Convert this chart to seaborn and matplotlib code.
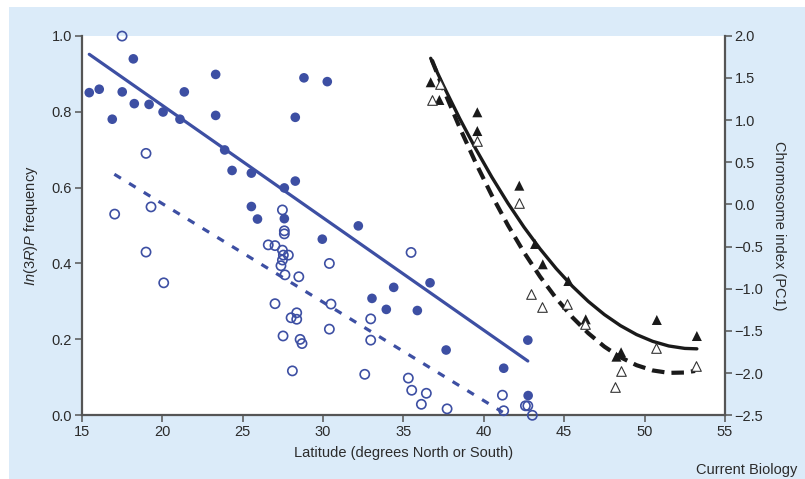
import numpy as np
import pandas as pd
import matplotlib
matplotlib.use('Agg')
import matplotlib.pyplot as plt
from matplotlib.patches import Rectangle
import seaborn as sns

# ─── data ─────────────────────────────────────────────────────────────────────
# In(3R)P frequency, filled circles
filled_lat = [15.47, 16.09, 16.90, 17.52, 18.21, 18.27, 19.19, 20.06, 21.11, 21.38,
              23.33, 23.33, 23.89, 24.35, 25.55, 25.55, 25.93, 27.60, 28.28, 27.60,
              28.28, 28.82, 30.27, 29.96, 32.20, 34.40, 33.05, 33.94, 35.87, 36.66,
              37.66, 42.74, 41.24, 42.76]
filled_freq = [0.850, 0.859, 0.780, 0.852, 0.939, 0.821, 0.819, 0.799, 0.780, 0.852,
               0.898, 0.790, 0.699, 0.645, 0.638, 0.550, 0.517, 0.599, 0.617, 0.518,
               0.785, 0.889, 0.879, 0.464, 0.499, 0.337, 0.308, 0.279, 0.276, 0.349,
               0.172, 0.198, 0.124, 0.052]

# In(3R)P frequency, open circles
open_lat = [17.51, 19.00, 17.05, 19.31, 19.00, 20.10, 27.48, 27.60, 27.60, 26.60,
            27.02, 27.48, 27.85, 27.54, 27.48, 27.39, 27.64, 28.50, 30.40, 27.02,
            28.37, 28.02, 28.37, 30.40, 27.52, 28.58, 28.70, 28.10, 32.60, 35.48,
            30.50, 32.97, 32.97, 35.31, 35.52, 36.43, 36.12, 37.72, 41.16, 41.24,
            42.59, 42.74, 43.02]
open_freq = [0.999, 0.690, 0.530, 0.549, 0.430, 0.349, 0.541, 0.486, 0.478, 0.449,
             0.447, 0.435, 0.422, 0.422, 0.409, 0.394, 0.370, 0.365, 0.400, 0.294,
             0.270, 0.257, 0.253, 0.227, 0.209, 0.200, 0.189, 0.117, 0.108, 0.429,
             0.293, 0.254, 0.198, 0.098, 0.066, 0.058, 0.029, 0.017, 0.053, 0.012,
             0.025, 0.025, 0.000]

# regression lines (end points)
line_filled_lat = [15.47, 42.74]
line_filled_freq = [0.951, 0.143]
line_open_lat = [17.03, 41.18]
line_open_freq = [0.635, 0.008]

# chromosome index (PC1), triangles
tri_filled_lat = [36.70, 37.24, 39.60, 39.60, 42.21, 43.19, 43.67, 45.26, 46.34, 48.25,
                  48.54, 50.76, 53.25]
tri_filled_pc1 = [1.448, 1.238, 1.092, 0.870, 0.222, -0.469, -0.710, -0.908, -1.362,
                  -1.805, -1.753, -1.370, -1.560]
tri_open_lat = [36.77, 37.28, 39.60, 42.21, 42.94, 43.61, 45.20, 46.32, 48.56, 48.18,
                50.71, 53.22]
tri_open_pc1 = [1.238, 1.424, 0.752, 0.013, -1.062, -1.220, -1.180, -1.421, -1.978,
                -2.161, -1.706, -1.916]

# quadratic curves
curve_solid_lat = [36.70, 37.5, 38.5, 39.5, 40.5, 41.5, 42.5, 43.5, 44.5, 45.5,
                   46.5, 47.5, 48.5, 49.5, 50.5, 51.5, 52.5, 53.25]
curve_solid_pc1 = [1.732, 1.405, 1.019, 0.659, 0.324, 0.015, -0.269, -0.527, -0.760,
                   -0.968, -1.150, -1.306, -1.437, -1.543, -1.623, -1.678, -1.707, -1.712]
curve_dash_lat = [36.77, 37.5, 38.5, 39.5, 40.5, 41.5, 42.5, 43.5, 44.5, 45.5,
                  46.5, 47.5, 48.5, 49.5, 50.5, 51.5, 52.5, 53.14]
curve_dash_pc1 = [1.712, 1.362, 0.912, 0.493, 0.107, -0.246, -0.568, -0.856, -1.112,
                  -1.336, -1.527, -1.686, -1.812, -1.906, -1.968, -1.997, -1.993, -1.974]

# ─── style ───────────────────────────────────────────────────────────────────
sns.set_theme(style='ticks')
plt.rcParams['font.family'] = ['Liberation Sans', 'DejaVu Sans']
plt.rcParams['mathtext.fontset'] = 'custom'
plt.rcParams['mathtext.it'] = 'Liberation Sans:italic'
plt.rcParams['mathtext.rm'] = 'Liberation Sans'

BLUE = '#3d4fa3'
BG = '#dbebf9'
SPINE = '#555555'
TXT = '#2b2b2b'

fig = plt.figure(figsize=(8.05, 4.79), dpi=100, facecolor='white')
fig.add_artist(Rectangle((9 / 805, 0), 1, 1 - 7 / 479, transform=fig.transFigure,
                         facecolor=BG, edgecolor='none', zorder=-10))

ax = fig.add_axes([81.7 / 805, 1 - 415.3 / 479, (725 - 81.7) / 805, (415.3 - 35.7) / 479])
ax.set_facecolor('white')

# blue lines
sns.lineplot(x=line_filled_lat, y=line_filled_freq, ax=ax, color=BLUE, lw=2.3)
sns.lineplot(x=line_open_lat, y=line_open_freq, ax=ax, color=BLUE, lw=2.3)
ax.lines[-1].set_dashes((2.4, 3.0))

# circles
sns.scatterplot(x=filled_lat, y=filled_freq, ax=ax, color=BLUE, s=48,
                edgecolor='none', clip_on=False, zorder=3)
sns.scatterplot(x=open_lat, y=open_freq, ax=ax, color=BLUE, s=44,
                clip_on=False, zorder=3)
ax.collections[-1].set_facecolor('none')
ax.collections[-1].set_edgecolor(BLUE)
ax.collections[-1].set_linewidth(1.2)

ax.set_xlim(15, 55)
ax.set_ylim(0, 1.0)
ax.set_xticks(np.arange(15, 56, 5))
ax.set_yticks(np.arange(0, 1.01, 0.2))
ax.set_yticklabels([f'{v:.1f}' for v in np.arange(0, 1.01, 0.2)])

# right axis: chromosome index
ax2 = ax.twinx()
ax2.set_facecolor('none')
sns.lineplot(x=curve_solid_lat, y=curve_solid_pc1, ax=ax2, color='#1a1a1a', lw=2.4)
sns.lineplot(x=curve_dash_lat, y=curve_dash_pc1, ax=ax2, color='#1a1a1a', lw=3.0)
ax2.lines[-1].set_dashes((3.0, 1.7))
sns.scatterplot(x=tri_filled_lat, y=tri_filled_pc1, ax=ax2, marker='^', color='#1a1a1a',
                s=52, edgecolor='none', zorder=3)
sns.scatterplot(x=tri_open_lat, y=tri_open_pc1, ax=ax2, marker='^', color='white',
                s=48, zorder=3)
ax2.collections[-1].set_facecolor('white')
ax2.collections[-1].set_edgecolor('#333333')
ax2.collections[-1].set_linewidth(0.8)

ax2.set_ylim(-2.5, 2.0)
r_ticks = np.arange(-2.5, 2.01, 0.5)
ax2.set_yticks(r_ticks)
ax2.set_yticklabels([f'{v:.1f}'.replace('-', '\u2212') for v in r_ticks])

# spines / ticks
for a in (ax, ax2):
    a.spines['top'].set_visible(False)
ax.spines['right'].set_visible(False)
ax2.spines['left'].set_visible(False)
ax2.spines['bottom'].set_visible(False)
for s in ('left', 'bottom'):
    ax.spines[s].set_color(SPINE)
    ax.spines[s].set_linewidth(1.6)
ax2.spines['right'].set_color(SPINE)
ax2.spines['right'].set_linewidth(1.6)
ax.tick_params(direction='out', length=5, width=1.1, color=SPINE,
               labelsize=10.5, labelcolor=TXT, pad=2)
ax2.tick_params(direction='out', length=5, width=1.1, color=SPINE,
                labelsize=10.5, labelcolor=TXT, pad=2)

ax.set_xlabel('Latitude (degrees North or South)', fontsize=10.5, color=TXT, labelpad=5)
ax.set_ylabel(r'$\mathit{In(3R)P}$ frequency', fontsize=10.5, color=TXT, labelpad=8)
ax2.set_ylabel('Chromosome index (PC1)', fontsize=10.5, color=TXT, rotation=270,
               labelpad=16)

fig.text(797 / 805, 1 - 470 / 479, 'Current Biology', ha='right', va='center',
         fontsize=10.5, color=TXT)

fig.savefig('out.png', dpi=100, facecolor='white')
plt.close()
